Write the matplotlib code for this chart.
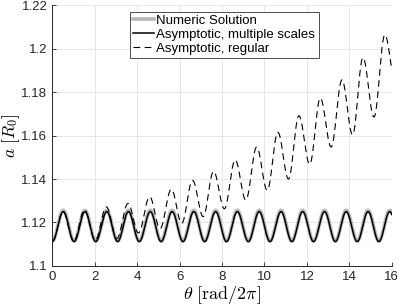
import numpy as np
import matplotlib
matplotlib.use("Agg")
import matplotlib.pyplot as plt
from matplotlib.ticker import FuncFormatter

# extrema (theta in rad/2pi, a in R0), alternating trough/peak
num_t = [0, 0.52, 1.03, 1.54, 2.05, 2.57, 3.08, 3.59, 4.10, 4.62, 5.13, 5.65, 6.16, 6.67,
         7.18, 7.70, 8.21, 8.72, 9.24, 9.75, 10.26, 10.78, 11.29, 11.80, 12.31, 12.83,
         13.34, 13.85, 14.37, 14.88, 15.39, 15.90, 16.41]
num_a = [1.1115, 1.1256] * 16 + [1.1115]

ms_t = num_t
ms_a = [1.1112, 1.1250] * 16 + [1.1112]

reg_t = [0, 0.51, 1.01, 1.52, 2.02, 2.55, 3.04, 3.57, 4.06, 4.59, 5.08, 5.61, 6.10, 6.61,
         7.11, 7.60, 8.11, 8.62, 9.12, 9.63, 10.13, 10.63, 11.13, 11.62, 12.13, 12.63,
         13.14, 13.65, 14.15, 14.64, 15.16, 15.67, 16.18]
reg_a = [1.1113, 1.1250, 1.1114, 1.1258, 1.1118, 1.1272, 1.1126, 1.1288, 1.1152, 1.1318,
         1.1172, 1.1353, 1.1196, 1.1394, 1.1227, 1.1435, 1.1263, 1.1488, 1.1303, 1.1547,
         1.1348, 1.1615, 1.1400, 1.1691, 1.1468, 1.1772, 1.1547, 1.1856, 1.1603, 1.1958,
         1.1685, 1.2063, 1.1840]


def smooth(tk, ak, n=40):
    # half-cosine join between consecutive extrema
    xs, ys = [], []
    for i in range(len(tk) - 1):
        s = np.linspace(0, 1, n, endpoint=False)
        xs.append(tk[i] + (tk[i + 1] - tk[i]) * s)
        ys.append(ak[i] + (ak[i + 1] - ak[i]) * (1 - np.cos(np.pi * s)) / 2)
    xs.append([tk[-1]])
    ys.append([ak[-1]])
    return np.concatenate(xs), np.concatenate(ys)


plt.rcParams["font.family"] = ["Liberation Sans", "DejaVu Sans"]
plt.rcParams["mathtext.fontset"] = "cm"

fig = plt.figure(figsize=(3.99, 3.07), dpi=100)
ax = fig.add_axes([0.131, 0.1336, 0.851, 0.850])

x, y = smooth(num_t, num_a)
ax.plot(x, y, color=(0.72, 0.72, 0.72), lw=2.6, label="Numeric Solution")
x, y = smooth(ms_t, ms_a)
ax.plot(x, y, color="k", lw=1.1, label="Asymptotic, multiple scales")
x, y = smooth(reg_t, reg_a)
ax.plot(x, y, color="k", lw=0.8, ls=(0, (6, 4)), label="Asymptotic, regular")

ax.set_xlim(0, 16)
ax.set_ylim(1.1, 1.22)
ax.set_xticks(np.arange(0, 17, 2))
ax.set_yticks(np.arange(1.1, 1.2201, 0.02))
ax.yaxis.set_major_formatter(FuncFormatter(lambda v, p: "%g" % round(v, 2)))
ax.grid(True, color=(0.9, 0.9, 0.9), lw=0.7)
ax.set_axisbelow(True)
for s in ["top", "right"]:
    ax.spines[s].set_visible(False)
for s in ["left", "bottom"]:
    ax.spines[s].set_color((0.15, 0.15, 0.15))
    ax.spines[s].set_linewidth(0.7)
ax.tick_params(direction="in", length=3, width=0.6, labelsize=9.5, colors=(0.15, 0.15, 0.15))

ax.set_xlabel(r"$\theta\ [\mathrm{rad}/2\pi]$", fontsize=13, labelpad=1)
ax.set_ylabel(r"$a\ [R_0]$", fontsize=12.5)
ax.yaxis.set_label_coords(-0.088, 0.5)

leg = ax.legend(loc="upper left", bbox_to_anchor=(0.229, 0.975), fontsize=9.5,
                fancybox=False, framealpha=1, edgecolor=(0.3, 0.3, 0.3),
                handlelength=1.6, handletextpad=0.15, labelspacing=0.12,
                borderpad=0.25, borderaxespad=0)
leg.get_frame().set_linewidth(0.7)

fig.savefig("out.png", dpi=100)
